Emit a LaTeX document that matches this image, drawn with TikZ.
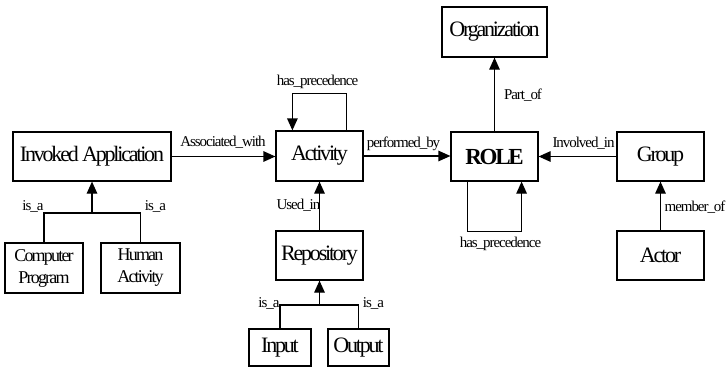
\documentclass[tikz,border=0pt]{standalone}
\usepackage{fontspec}
\setmainfont{Liberation Serif}
\newfontfamily\boxfont{Liberation Serif}[LetterSpace=-10]
\newfontfamily\labfont{Liberation Serif}[LetterSpace=-7]
\usetikzlibrary{arrows.meta}
\tikzset{
  box/.style={draw, line width=1.2pt, inner sep=0pt, align=center,
    font=\boxfont\fontsize{22}{24}\selectfont},
  smallbox/.style={box, font=\boxfont\fontsize{18}{22}\selectfont},
  lab/.style={anchor=base, inner sep=0pt, font=\labfont\fontsize{15}{17}\selectfont},
  link/.style={line width=1.2pt},
  arr/.style={link, -{Triangle[length=12pt,width=10.5pt]}}
}
\begin{document}
\begin{tikzpicture}[x=1pt, y=-1pt]
\useasboundingbox (0,0) rectangle (726,367);

% entity boxes
\node[box, minimum width=158pt, minimum height=49pt] (inv) at (92,156.5) {Invoked Application};
\node[smallbox, minimum width=78pt, minimum height=50pt] (comp) at (44,268) {Computer\\Program};
\node[smallbox, minimum width=79pt, minimum height=50pt] (hum) at (140.5,268) {Human\\Activity};
\node[box, minimum width=87pt, minimum height=50pt] (act) at (319.5,156) {Activity};
\node[box, minimum width=87pt, minimum height=49pt] (rep) at (319.5,255.5) {Repository};
\node[box, minimum width=62pt, minimum height=37pt] (inp) at (280,347.5) {Input};
\node[box, minimum width=61pt, minimum height=37pt] (outp) at (358.5,347.5) {Output};
\node[box, minimum width=87pt, minimum height=49pt,
      font=\boxfont\bfseries\fontsize{23}{25}\selectfont] (role) at (494.5,156.5) {ROLE};
\node[box, minimum width=105pt, minimum height=50pt] (org) at (494.5,32) {Organization};
\node[box, minimum width=87pt, minimum height=49pt] (grp) at (660.5,156.5) {Group};
\node[box, minimum width=87pt, minimum height=49pt] (actor) at (660.5,255.5) {Actor};

% junction points of the is_a trees
\coordinate (j1) at (92,213);
\coordinate (j2) at (319.5,305);

% is_a: Computer Program / Human Activity -> Invoked Application
\draw[link] (comp.north) |- (j1) -| (hum.north);
\draw[arr] (j1) -- (inv.south);
\node[lab] (l1) at (33,210) {is\_a};
\node[lab] (l2) at (155.5,210) {is\_a};

% is_a: Input / Output -> Repository
\draw[link] (inp.north) |- (j2) -| (outp.north);
\draw[arr] (j2) -- (rep.south);
\node[lab] (l3) at (269,307) {is\_a};
\node[lab] (l4) at (373.5,307) {is\_a};

% Associated_with
\draw[arr] (inv.east) -- (inv.east -| act.west);
\node[lab] (l5) at (223,146) {Associated\_with};

% Activity precedence loop
\draw[arr] ([xshift=-17pt]act.north east) -- ++(0,-37) -| ([xshift=17pt]act.north west);
\node[lab] (l6) at (317.5,85) {has\_precedence};

% performed_by
\draw[arr] (act.east) -- (act.east -| role.west);
\node[lab] (l7) at (403.5,147) {performed\_by};

% Used_in
\draw[arr] (rep.north) -- (act.south);
\node[lab] (l8) at (298.5,209) {Used\_in};

% Part_of
\draw[arr] (role.north) -- (org.south);
\node[lab] (l9) at (523,99) {Part\_of};

% Involved_in
\draw[arr] (grp.west) -- (role.east);
\node[lab] (l10) at (583.5,147) {Involved\_in};

% member_of
\draw[arr] (actor.north) -- (grp.south);
\node[lab] (l11) at (695,211) {member\_of};

% ROLE precedence loop
\draw[arr] ([xshift=17pt]role.south west) -- ++(0,50) -| ([xshift=-17pt]role.south east);
\node[lab] (l12) at (500.5,247) {has\_precedence};
\end{tikzpicture}
\end{document}
